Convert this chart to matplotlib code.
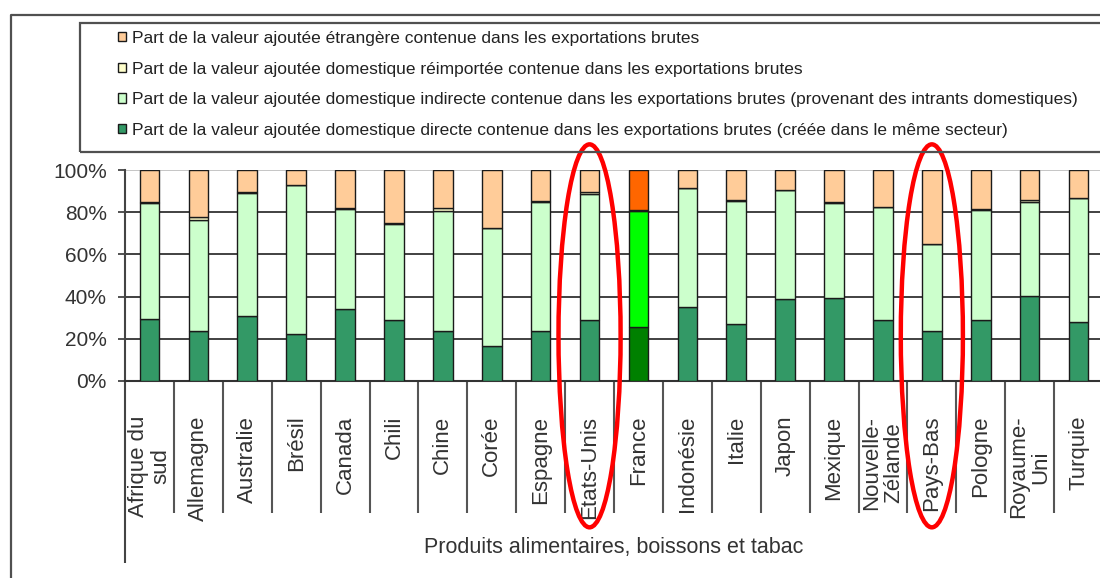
import matplotlib
matplotlib.use("Agg")
import matplotlib.pyplot as plt
from matplotlib.patches import Ellipse, Rectangle, Patch
from matplotlib.lines import Line2D
import matplotlib.transforms as mtransforms

plt.rcParams['font.family'] = ['Liberation Sans', 'DejaVu Sans']

# Pays, industrie : produits alimentaires, boissons et tabac
countries = ["Afrique du\nsud", "Allemagne", "Australie", "Brésil", "Canada",
             "Chili", "Chine", "Corée", "Espagne", "États-Unis", "France",
             "Indonésie", "Italie", "Japon", "Mexique", "Nouvelle-\nZélande",
             "Pays-Bas", "Pologne", "Royaume-\nUni", "Turquie"]

# Parts (%) des exportations brutes
va_direct = [29.6, 23.9, 31.0, 22.5, 34.0, 29.1, 23.7, 16.8, 23.7, 29.1,
             25.6, 35.1, 26.8, 38.8, 39.4, 29.1, 23.7, 29.1, 40.2, 27.9]
va_indirect = [54.9, 52.4, 57.9, 70.4, 47.3, 45.3, 57.0, 55.5, 61.3, 59.4,
               55.1, 56.2, 58.6, 51.7, 45.1, 53.2, 41.0, 51.9, 44.8, 58.7]
va_reimport = [0.3, 1.2, 0.8, 0.2, 0.9, 0.4, 1.1, 0.4, 0.3, 1.0,
               0.2, 0.1, 0.5, 0.1, 0.3, 0.2, 0.3, 0.3, 1.0, 0.3]
va_foreign = [15.2, 22.5, 10.3, 6.9, 17.8, 25.2, 18.2, 27.3, 14.7, 10.5,
              19.1, 8.6, 14.1, 9.4, 15.2, 17.5, 35.0, 18.7, 14.0, 13.1]

series_labels = [
    "Part de la valeur ajoutée domestique directe contenue dans les exportations brutes (créée dans le même secteur)",
    "Part de la valeur ajoutée domestique indirecte contenue dans les exportations brutes (provenant des intrants domestiques)",
    "Part de la valeur ajoutée domestique réimportée contenue dans les exportations brutes",
    "Part de la valeur ajoutée étrangère contenue dans les exportations brutes",
]
axis_title = "Produits alimentaires, boissons et tabac"
highlighted = ["États-Unis", "Pays-Bas"]

base_colors = ["#339966", "#CCFFCC", "#FFFFCC", "#FFCC99"]
france_colors = ["#008000", "#00FF00", "#FFFF00", "#FF6600"]

W, H = 1100, 578
fig = plt.figure(figsize=(W / 100, H / 100), dpi=100)
fig.patch.set_facecolor("white")

# plot area in pixels: x 125..1100, y 170..381 (from top)
ax = fig.add_axes([125 / W, (H - 381) / H, (W - 125) / W, 211 / H])
n = len(countries)
x = list(range(n))
unit = 48.9
ax.set_xlim(-0.5, -0.5 + (W - 125) / unit)
ax.set_ylim(0, 100)

series = [va_direct, va_indirect, va_reimport, va_foreign]
bottom = [0.0] * n
for k, vals in enumerate(series):
    cols = [france_colors[k] if c == "France" else base_colors[k] for c in countries]
    ax.bar(x, vals, width=0.4, bottom=bottom, color=cols,
           edgecolor="#1a1a1a", linewidth=1.0, zorder=3)
    bottom = [b + v for b, v in zip(bottom, vals)]

# grid
for yv in (20, 40, 60, 80):
    ax.axhline(yv, color="#333333", lw=1.3, zorder=1)
ax.axhline(100, color="#c0c0c0", lw=1.3, zorder=1)

for s in ("top", "right"):
    ax.spines[s].set_visible(False)
ax.spines["left"].set_color("#444444")
ax.spines["bottom"].set_color("#333333")
ax.spines["left"].set_linewidth(1.5)
ax.spines["bottom"].set_linewidth(1.5)

ax.set_yticks([0, 20, 40, 60, 80, 100])
ax.set_yticklabels([f"{v}%" for v in (0, 20, 40, 60, 80, 100)])
ax.tick_params(axis="y", length=5, width=1.3, color="#444444", pad=8,
               labelsize=15, labelcolor="#333333")

ax.set_xticks(x)
ax.set_xticklabels(countries, rotation=90, fontsize=16, color="#333333",
                   multialignment="center", linespacing=1.05)
ax.tick_params(axis="x", length=0, pad=25)

# category separators and extended left axis line
trans = mtransforms.blended_transform_factory(ax.transData, ax.transAxes)
sep_bottom = (381 - 513) / 211
ax.vlines([i + 0.5 for i in range(n - 1)], sep_bottom, 0, transform=trans,
          colors="#555555", lw=1.5, clip_on=False)
ax.vlines([-0.5], (381 - 563) / 211, 0, transform=trans,
          colors="#444444", lw=1.5, clip_on=False)

ax.text((n - 1) / 2, (381 - 548) / 211, axis_title, transform=trans,
        ha="center", va="center", fontsize=15.5, color="#333333")

# highlight ellipses
for name in highlighted:
    i = countries.index(name)
    ax.add_patch(Ellipse((i, 21.4), width=1.27, height=181.5, fill=False,
                         edgecolor="#ff0000", lw=3.2, clip_on=False, zorder=5))

# legend
handles = [Patch(facecolor=base_colors[k], edgecolor="#1a1a1a", lw=1.0)
           for k in range(4)]
leg = fig.legend(handles[::-1], series_labels[::-1], loc="upper left",
                 bbox_to_anchor=(118 / W, (H - 31) / H), frameon=False,
                 fontsize=12.5, handlelength=0.45, handleheight=0.45,
                 handletextpad=0.35, labelspacing=0.9, borderpad=0,
                 borderaxespad=0)
for t in leg.get_texts():
    t.set_color("#222222")

# legend box and outer frame
fig.add_artist(Rectangle((80 / W, (H - 152) / H), 1.0, 129 / H,
                         transform=fig.transFigure, fill=False,
                         edgecolor="#505050", lw=1.6))
fig.add_artist(Line2D([11 / W, 11 / W, 1.0], [0, (H - 15) / H, (H - 15) / H],
                      transform=fig.transFigure, color="#505050", lw=1.6))

fig.savefig("out.png", dpi=100)
